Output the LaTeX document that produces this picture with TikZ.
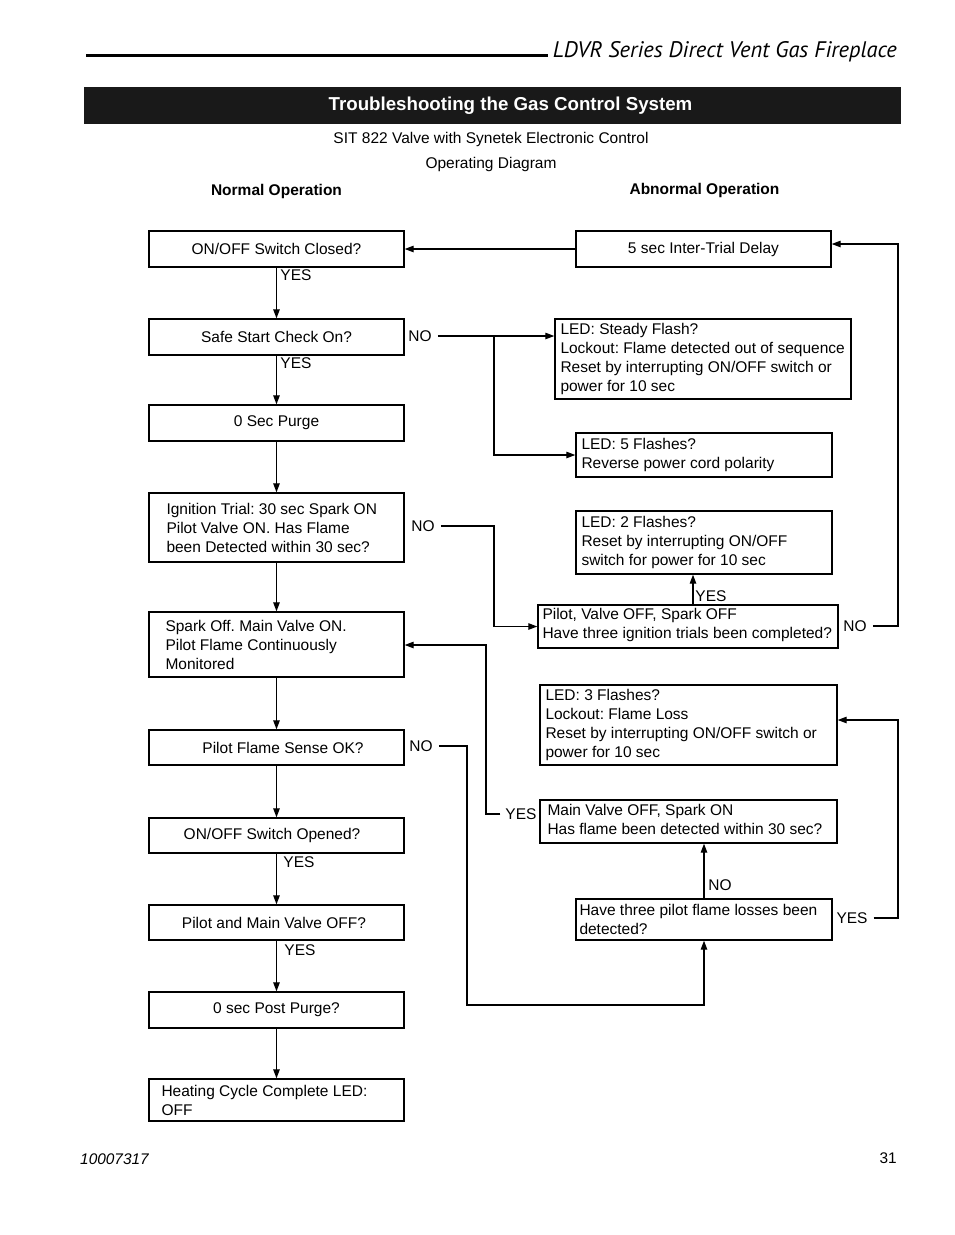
\documentclass[tikz,border=0pt]{standalone}
\usepackage{fontspec}
\setmainfont{Liberation Sans}
\newfontfamily\hdrfont{PT Sans}
\usetikzlibrary{arrows.meta}
\newcommand\fs{\fontsize{15.5}{19}\selectfont}
\frenchspacing
\begin{document}
\begin{tikzpicture}[x=1pt,y=-1pt,
  bx/.style={draw=black, line width=1.4pt, inner sep=0pt, font=\fs, align=center},
  tx/.style={font=\fs, align=left, inner sep=0pt, anchor=west},
  lbl/.style={font=\fs, inner sep=0pt},
  conn/.style={line width=1.2pt, -{Triangle[length=9pt,width=6.5pt]}},
  wire/.style={line width=1.2pt}]
\useasboundingbox (0,0) rectangle (954,1235);
\fill[white] (0,0) rectangle (954,1235);

% header
\draw[line width=3pt] (86,55) -- (548,55);
\node[inner sep=0pt, anchor=base east, font=\hdrfont\itshape\fontsize{22.5}{26}\selectfont] (hdr) at (897,57) {LDVR Series Direct Vent Gas Fireplace};
\fill[black!90] (84,87) rectangle (901,124);
\node[inner sep=0pt, anchor=base, text=white, font=\bfseries\fontsize{18.7}{22}\selectfont] (ttl) at (510.5,110) {Troubleshooting the Gas Control System};
\node[inner sep=0pt, anchor=base, font=\fs] (sub1) at (491,143) {SIT 822 Valve with Synetek Electronic Control};
\node[inner sep=0pt, anchor=base, font=\fs] (sub2) at (491,168) {Operating Diagram};
\node[inner sep=0pt, anchor=base, font=\fs\bfseries] (norm) at (276.5,195) {Normal Operation};
\node[inner sep=0pt, anchor=base, font=\fs\bfseries] (abn) at (704.5,194) {Abnormal Operation};

% left column
\node[bx, minimum width=255, minimum height=36] (b1) at (276.5,249) {ON/OFF Switch Closed?};
\node[bx, minimum width=255, minimum height=36] (b2) at (276.5,337) {Safe Start Check On?};
\node[bx, minimum width=255, minimum height=36] (b3) at (276.5,423) {0 Sec Purge};
\node[bx, minimum width=255, minimum height=69] (b4) at (276.5,527.5) {};
\node[tx] (b4t) at ([xshift=18pt]b4.west) {Ignition Trial: 30 sec Spark ON\\Pilot Valve ON. Has Flame\\been Detected within 30 sec?};
\node[bx, minimum width=255, minimum height=65] (b5) at (276.5,644.5) {};
\node[tx] (b5t) at ([xshift=17pt]b5.west) {Spark Off. Main Valve ON.\\Pilot Flame Continuously\\Monitored};
\node[bx, minimum width=255, minimum height=35] (b6) at (276.5,747.5) {\hspace*{13pt}Pilot Flame Sense OK?};
\node[bx, minimum width=255, minimum height=35] (b7) at (276.5,835.5) {ON/OFF Switch Opened?\hspace*{9pt}};
\node[bx, minimum width=255, minimum height=35] (b8) at (276.5,922.5) {Pilot and Main Valve OFF?\hspace*{5pt}};
\node[bx, minimum width=255, minimum height=36] (b9) at (276.5,1010) {0 sec Post Purge?};
\node[bx, minimum width=255, minimum height=42] (b10) at (276.5,1100) {};
\node[tx] (b10t) at ([xshift=13pt]b10.west) {Heating Cycle Complete LED:\\OFF};

% right column
\node[bx, minimum width=255, minimum height=36] (A) at (703.5,249) {5 sec Inter-Trial Delay};
\node[bx, minimum width=296, minimum height=80] (B) at (703,359) {};
\node[tx] (Bt) at ([xshift=6pt]B.west) {LED: Steady Flash?\\Lockout: Flame detected out of sequence\\Reset by interrupting ON/OFF switch or\\power for 10 sec};
\node[bx, minimum width=256, minimum height=44] (C) at (704,455) {};
\node[tx] (Ct) at ([xshift=6pt]C.west) {LED: 5 Flashes?\\Reverse power cord polarity};
\node[bx, minimum width=256, minimum height=63] (D) at (704,542.5) {};
\node[tx] (Dt) at ([xshift=6pt]D.west) {LED: 2 Flashes?\\Reset by interrupting ON/OFF\\switch for power for 10 sec};
\node[bx, minimum width=300, minimum height=43] (E) at (688,626.5) {};
\node[tx] (Et) at ([xshift=5pt,yshift=2pt]E.west) {Pilot, Valve OFF, Spark OFF\\Have three ignition trials been completed?};
\node[bx, minimum width=297, minimum height=80] (F) at (688.5,725) {};
\node[tx] (Ft) at ([xshift=6pt]F.west) {LED: 3 Flashes?\\Lockout: Flame Loss\\Reset by interrupting ON/OFF switch or\\power for 10 sec};
\node[bx, minimum width=297, minimum height=43] (G) at (688.5,821.5) {};
\node[tx] (Gt) at ([xshift=8pt,yshift=2pt]G.west) {Main Valve OFF, Spark ON\\Has flame been detected within 30 sec?};
\node[bx, minimum width=256, minimum height=41] (H) at (704,919.5) {};
\node[tx] (Ht) at ([xshift=4pt]H.west) {Have three pilot flame losses been\\detected?};

% labels
\node[lbl] (y12) at (296,275) {YES};
\node[lbl] (y23) at (296,363) {YES};
\node[lbl] (y78) at (299,862) {YES};
\node[lbl] (y89) at (300,950) {YES};
\node[lbl] (no2) at (420,336) {NO};
\node[lbl] (no4) at (423,526) {NO};
\node[lbl] (no6) at (421,746) {NO};
\node[lbl] (yED) at (711,596) {YES};
\node[lbl] (noE) at (855,626) {NO};
\node[lbl] (yG) at (521,814) {YES};
\node[lbl] (noH) at (720,885) {NO};
\node[lbl] (yH) at (852,918) {YES};

% helper coordinates
\coordinate (j1) at (494,336);
\coordinate (j2) at (494,526);
\coordinate (xe) at (693,0);
\coordinate (r1) at (898,626);
\coordinate (r2) at (898,244);
\coordinate (q2) at (467,1005);
\coordinate (s1) at (898,918);
\coordinate (s2) at (898,720);
\coordinate (t1) at (486,645);

% main chain
\draw[conn] (A.west) -- (b1.east);
\draw[conn] (b1.south) -- (b2.north);
\draw[conn] (b2.south) -- (b3.north);
\draw[conn] (b3.south) -- (b4.north);
\draw[conn] (b4.south) -- (b5.north);
\draw[conn] (b5.south) -- (b6.north);
\draw[conn] (b6.south) -- (b7.north);
\draw[conn] (b7.south) -- (b8.north);
\draw[conn] (b8.south) -- (b9.north);
\draw[conn] (b9.south) -- (b10.north);

% branches
\draw[conn] ([xshift=6pt]no2.east) -- (B.west |- no2);
\draw[conn] (j1) |- (C.west);
\draw[conn] ([xshift=6pt]no4.east) -- (j2) |- (E.west);
\draw[conn] (E.north -| xe) -- (D.south -| xe);
\draw[conn] ([xshift=6pt]noE.east) -- (r1) -- (r2) -- (A.east |- r2);
\draw[conn] ([xshift=6pt]no6.east) -| (q2) -| (H.south);
\draw[conn] (H.north) -- (H.north |- G.south);
\draw[conn] ([xshift=6pt]yH.east) -- (s1) -- (s2) -- (F.east |- s2);
\draw[conn] ([xshift=-5pt]yG.west) -| (t1) -- (b5.east |- t1);

% footer
\node[inner sep=0pt, anchor=base west, font=\itshape\fontsize{15.4}{18}\selectfont] (pn) at (80,1164) {10007317};
\node[inner sep=0pt, anchor=base east, font=\fontsize{15.4}{18}\selectfont] (pg) at (897,1163) {31};
\end{tikzpicture}
\end{document}
